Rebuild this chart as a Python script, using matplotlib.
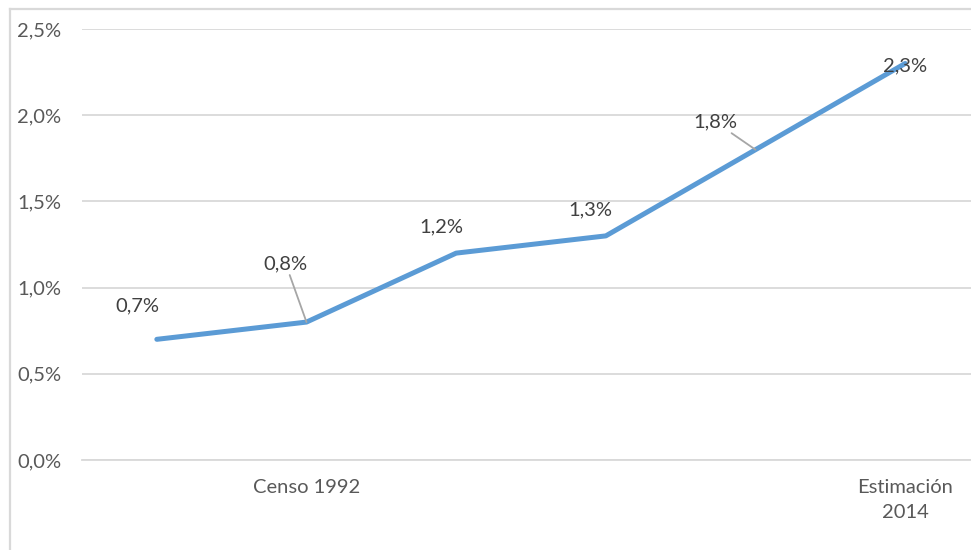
import matplotlib.pyplot as plt
from matplotlib.lines import Line2D
from matplotlib.ticker import FuncFormatter, MultipleLocator

# data (percent)
categories = ["", "Censo 1992", "", "", "", "Estimación\n2014"]
values = [0.7, 0.8, 1.2, 1.3, 1.8, 2.3]
value_labels = ["0,7%", "0,8%", "1,2%", "1,3%", "1,8%", "2,3%"]

# label offsets in points and whether a leader line is drawn
label_offsets = [(-14, 24), (-15, 42), (-11, 19), (-11, 19), (-29, 20), (0, -2)]
leaders = [False, True, False, False, True, False]

plt.rcParams['font.family'] = ['Lato', 'DejaVu Sans']

fig = plt.figure(figsize=(9.71, 5.5), dpi=100)
ax = fig.add_axes([82 / 971, 90 / 550, 898 / 971, 431 / 550])

x = list(range(len(values)))
ax.plot(x, values, color='#5B9BD5', linewidth=3.6, solid_capstyle='round',
        solid_joinstyle='round', zorder=3)

for i, (v, lab) in enumerate(zip(values, value_labels)):
    kw = {}
    if leaders[i]:
        kw['arrowprops'] = dict(arrowstyle='-', color='#A6A6A6', lw=1.3,
                                shrinkA=0, shrinkB=0, relpos=(0.5, 0.5))
    ax.annotate(lab, (i, v), xytext=label_offsets[i], textcoords='offset points',
                ha='center', va='center', fontsize=14.5, color='#404040',
                zorder=4, **kw)

ax.set_xlim(-0.5, len(values) - 0.5)
ax.set_ylim(0, 2.5)
ax.yaxis.set_major_locator(MultipleLocator(0.5))
ax.yaxis.set_major_formatter(FuncFormatter(lambda v, p: f"{v:.1f}%".replace('.', ',')))
ax.set_xticks(x)
ax.set_xticklabels(categories, linespacing=1.55)

ax.grid(axis='y', color='#D9D9D9', linewidth=1.3)
ax.set_axisbelow(True)
for s in ['top', 'right', 'left']:
    ax.spines[s].set_visible(False)
ax.spines['bottom'].set_color('#D9D9D9')
ax.spines['bottom'].set_linewidth(1.3)
ax.tick_params(axis='both', length=0, colors='#595959', labelsize=14.5)
ax.tick_params(axis='y', pad=15)
ax.tick_params(axis='x', pad=14)

# outer chart border (left and top edges visible)
bx = 10 / 971
by = 1 - 9 / 550
fig.add_artist(Line2D([bx, bx], [0, by], color='#D9D9D9', lw=1.6))
fig.add_artist(Line2D([bx, 1], [by, by], color='#D9D9D9', lw=1.6))

fig.savefig('out.png', dpi=100)
